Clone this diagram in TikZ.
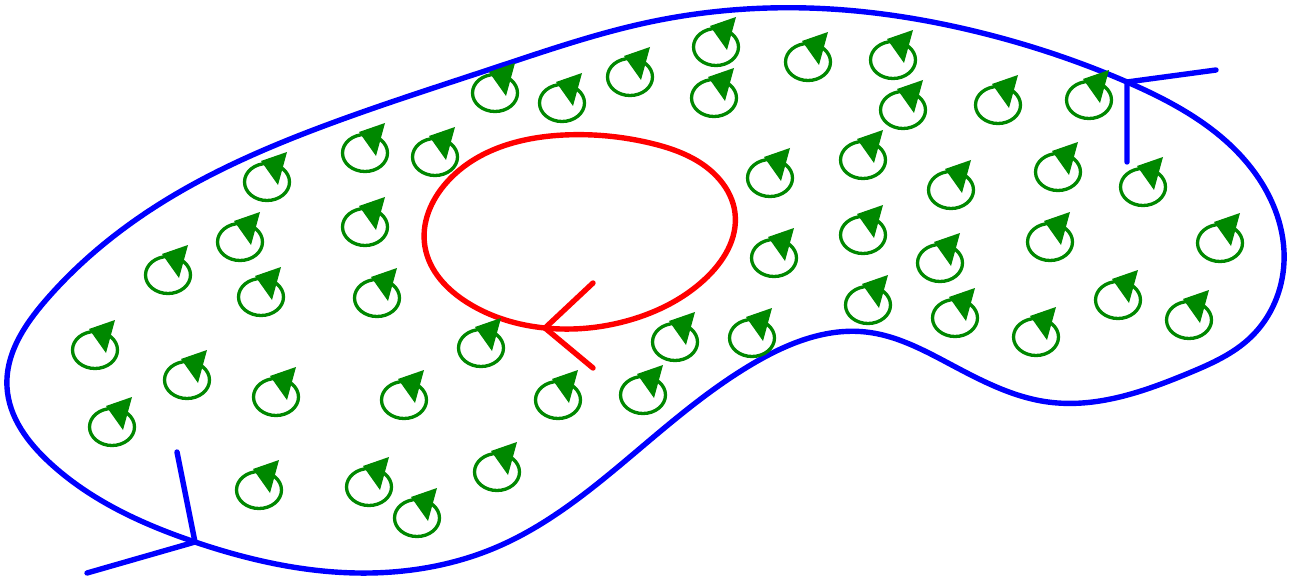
\documentclass[tikz,border=0pt]{standalone}
\usetikzlibrary{hobby}
\definecolor{curlgreen}{RGB}{0,136,0}
\begin{document}
\begin{tikzpicture}[x=1pt,y=-1pt,line join=round,
  boundary/.style={draw=blue,line width=5.4pt},
  loopline/.style={draw=red,line width=5.4pt},
  tickline/.style={draw=blue,line width=5.4pt,line cap=round},
  redtick/.style={draw=red,line width=5.4pt,line cap=round},
  curl/.pic={
    \draw[curlgreen,line width=3.3pt] (0,0) ellipse [x radius=22.5pt, y radius=18.5pt];
    \fill[curlgreen] (20,-30) -- (-6,-21) -- (11,3) -- cycle;
  }]
\useasboundingbox (0,0) rectangle (1303,580);
% outer boundary
\draw[boundary,use Hobby shortcut,closed=true]
 (7,387) .. (46,300) .. (166,200) .. (332,123) .. (497,67) .. (650,22)
 .. (808,8) .. (982,33) .. (1127,82) .. (1255,173) .. (1284,262)
 .. (1251,337) .. (1189,373) .. (1048,402) .. (948,363) .. (866,332)
 .. (754,363) .. (650,440) .. (497,547) .. (357,573) .. (195,542) .. (50,463);
% arrow marks on the boundary
\coordinate (jA) at (1127,82);
\coordinate (jA1) at (1216,70);
\coordinate (jA2) at (1127,162);
\draw[tickline] (jA1) -- (jA) -- (jA2);
\coordinate (jB) at (195,542);
\coordinate (jB1) at (177,452);
\coordinate (jB2) at (87,573);
\draw[tickline] (jB1) -- (jB) -- (jB2);
% red loop
\draw[loopline,use Hobby shortcut,closed=true]
 (564,135) .. (650,143) .. (720,180) .. (735,213) .. (704,280) .. (630,320)
 .. (545,328) .. (468,303) .. (425,247) .. (447,182);
\coordinate (rT) at (545,328);
\coordinate (rT1) at (593,283);
\coordinate (rT2) at (593,368);
\draw[redtick] (rT1) -- (rT) -- (rT2);
% small curls
\foreach \p in {
 (495,93),(562,103),(630,77),(365,153),(435,157),(267,182),(365,227),(240,242),(168,275),
 (716,47),(808,62),(893,60),(714,98),(903,110),(998,105),(1089,100),(770,178),(863,160),
 (951,190),(1058,172),(1143,187),(774,258),(863,235),(940,263),(1050,242),(1220,243),
 (95,350),(187,380),(276,397),(404,400),(481,348),(558,400),(112,427),(259,490),(369,487),
 (417,518),(497,472),(261,297),(377,298),
 (675,342),(752,338),(868,305),(955,318),(1036,337),(1118,300),(1189,320),(643,395)}
 { \pic at \p {curl}; }
\end{tikzpicture}
\end{document}
